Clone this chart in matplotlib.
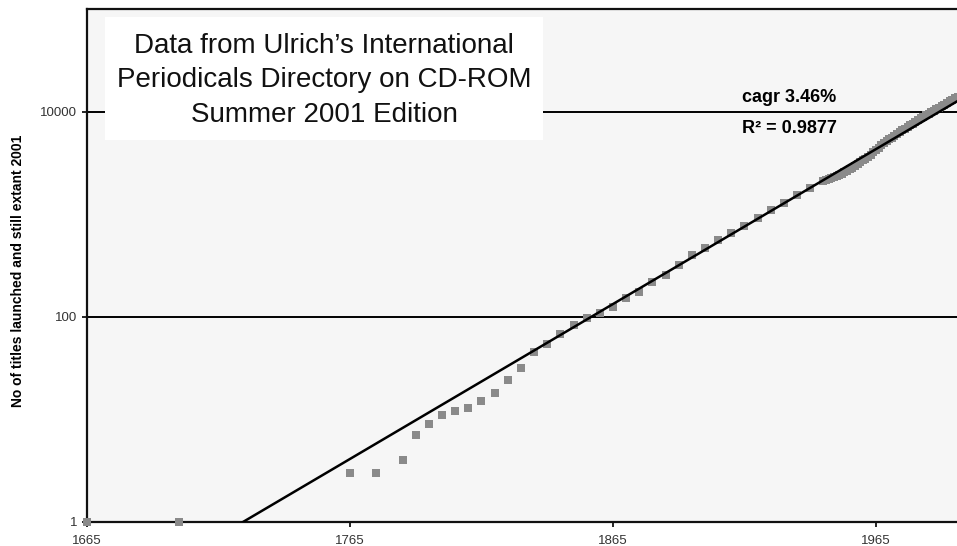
import numpy as np
import matplotlib
matplotlib.use("Agg")
import matplotlib.pyplot as plt
from matplotlib.patches import Rectangle

plt.rcParams['font.family'] = ['Liberation Sans', 'DejaVu Sans']

# titles launched and still extant in 2001
years = [1665, 1700, 1765, 1775, 1785, 1790, 1795, 1800, 1805, 1810,
         1815, 1820, 1825, 1830, 1835, 1840, 1845, 1850, 1855, 1860,
         1865, 1870, 1875, 1880, 1885, 1890, 1895, 1900, 1905, 1910,
         1915, 1920, 1925, 1930, 1935, 1940, 1945,
         1946, 1947, 1948, 1949, 1950, 1951, 1952, 1953, 1954, 1955,
         1956, 1957, 1958, 1959, 1960, 1961, 1962, 1963, 1964, 1965,
         1966, 1967, 1968, 1969, 1970, 1971, 1972, 1973, 1974, 1975,
         1976, 1977, 1978, 1979, 1980, 1981, 1982, 1983, 1984, 1985,
         1986, 1987, 1988, 1989, 1990, 1991, 1992, 1993, 1994, 1995, 1996]
titles = [1, 1, 3, 3, 4, 7, 9, 11, 12, 13,
          15, 18, 24, 32, 45, 54, 68, 84, 98, 108,
          125, 152, 176, 219, 256, 320, 398, 470, 565, 650,
          770, 920, 1100, 1300, 1540, 1800, 2120,
          2150, 2200, 2240, 2290, 2340, 2400, 2480, 2560, 2650, 2740,
          2840, 2960, 3070, 3200, 3340, 3490, 3650, 3810, 4010, 4230,
          4460, 4700, 4900, 5120, 5350, 5580, 5830, 6090, 6310, 6590,
          6830, 7070, 7390, 7650, 7920, 8270, 8570, 8870, 9180, 9510,
          9850, 10190, 10550, 10930, 11310, 11710, 12130, 12560, 13000, 13460, 13940]

# exponential trend as drawn: value 1 in ~1724, about 3.5% a year
trend_zero_year = 1724.3
trend_log_slope = 0.0151

x_ticks = [1665, 1765, 1865, 1965]
y_ticks = [1, 100, 10000]

W, H = 957, 546
fig = plt.figure(figsize=(W / 100, H / 100), dpi=100)
ax = fig.add_axes([87 / W, 1 - 522 / H, 1 - 87 / W, (522 - 9) / H])
ax.set_facecolor('#f6f6f6')

trend_x = np.arange(1665, 2002)
trend_y = 10 ** (trend_log_slope * (trend_x - trend_zero_year))

ax.plot(years, titles, 's', color='#8a8a8a', markersize=5.8, mew=0, zorder=4, clip_on=False)
ax.plot(trend_x, trend_y, color='black', lw=1.8, zorder=5)

ax.set_yscale('log')
ax.set_ylim(1, 1e5)
ax.set_xlim(1665, 1995.8)
ax.set_yticks(y_ticks)
ax.set_yticklabels([str(v) for v in y_ticks])
ax.yaxis.set_minor_locator(matplotlib.ticker.NullLocator())
ax.set_xticks(x_ticks)
ax.set_xticklabels([str(v) for v in x_ticks])
ax.tick_params(axis='both', labelsize=9.5, labelcolor='#333333', length=3.6, width=1.2, direction='out')
ax.tick_params(axis='y', pad=3.5)
ax.tick_params(axis='x', pad=6)

ax.set_axisbelow(True)
ax.yaxis.grid(True, color='black', lw=1.4)
ax.xaxis.grid(False)

for side in ['left', 'bottom', 'top']:
    ax.spines[side].set_linewidth(1.6)
    ax.spines[side].set_color('#111111')
ax.spines['right'].set_visible(False)

# white box behind the source note
ax.add_patch(Rectangle((105 / W, 1 - 140 / H), 438 / W, 123 / H, transform=fig.transFigure,
                       facecolor='white', edgecolor='none', zorder=1.5))
fig.text(324 / W, 1 - 33 / H,
         "Data from Ulrich\u2019s International\nPeriodicals Directory on CD-ROM\nSummer 2001 Edition",
         ha='center', va='top', fontsize=20, linespacing=1.42, color='#111111')

fig.text(789 / W, 1 - 98 / H, "cagr 3.46%", ha='center', va='center', fontsize=13, fontweight='bold')
fig.text(789 / W, 1 - 128 / H, "R\u00b2 = 0.9877", ha='center', va='center', fontsize=13, fontweight='bold')

fig.text(18 / W, 1 - 271 / H, "No of titles launched and still extant 2001", rotation=90,
         ha='center', va='center', fontsize=10, fontweight='bold')

fig.savefig('out.png', dpi=100)
